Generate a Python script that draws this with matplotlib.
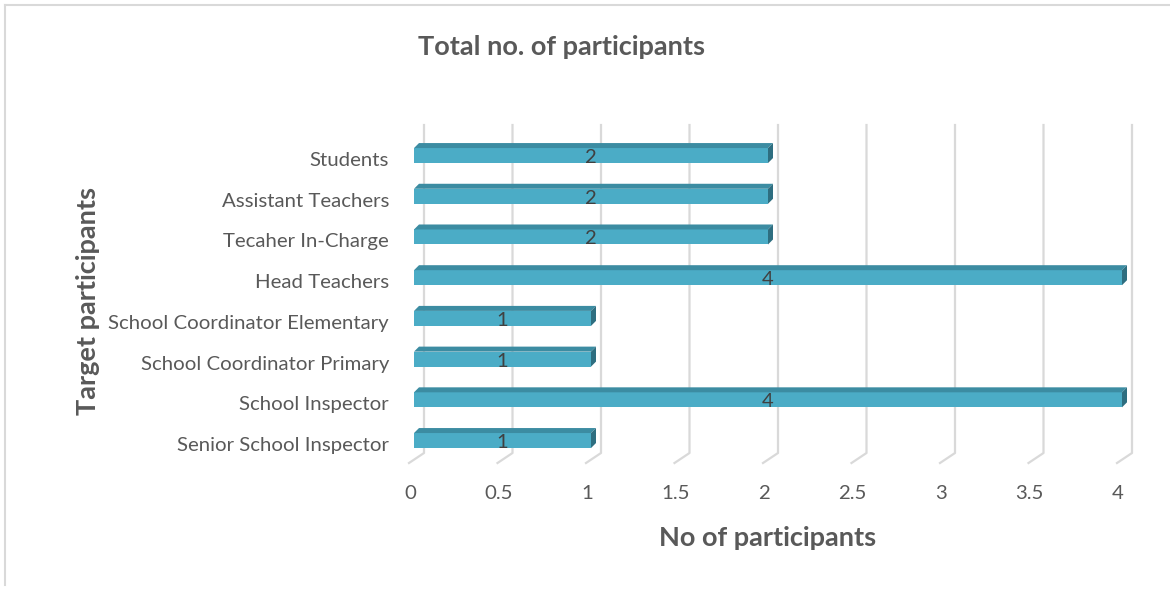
import matplotlib
matplotlib.use("Agg")
import matplotlib.pyplot as plt
from matplotlib.patches import Polygon
from matplotlib.lines import Line2D
from matplotlib.transforms import ScaledTranslation

plt.rcParams['font.family'] = ['Lato', 'DejaVu Sans']

# participants per group, bottom to top
categories = ["Senior School Inspector", "School Inspector", "School Coordinator Primary",
              "School Coordinator Elementary", "Head Teachers", "Tecaher In-Charge",
              "Assistant Teachers", "Students"]
counts = [1, 4, 1, 1, 4, 2, 2, 2]
xticks = [0, 0.5, 1, 1.5, 2, 2.5, 3, 3.5, 4]

front = '#4BACC6'
top_col = '#3C8CA2'
side_col = '#2E6E80'
grid_col = '#D9D9D9'
text_col = '#595959'

fig = plt.figure(figsize=(11.7, 5.89), dpi=100)
W, H = 1170, 589

# axes: x=0 at px 414, x=4 at px 1122; category rows 40.7 px apart
ax = fig.add_axes([414 / W, 1 - 460.9 / H, 708 / W, 325.7 / H])
ax.set_xlim(0, 4)
ax.set_ylim(-0.5, 7.5)
for s in ax.spines.values():
    s.set_visible(False)

ux = 177.0     # px per unit on x
uy = 40.71     # px per category
def dx(p):
    return p / ux
def dy(p):
    return p / uy

# back wall gridlines with a short floor segment
y_floor = -0.306
y_top = 7.75
for v in xticks:
    ax.add_line(Line2D([v + dx(10), v + dx(10), v + dx(-5)],
                       [y_top, y_floor, y_floor - dy(10)],
                       color=grid_col, lw=1.6, clip_on=False, zorder=0))

bh = dy(15)
depth = 5
pos = list(range(len(categories)))
ax.barh(pos, counts, height=bh, color=front, edgecolor='none', zorder=3)
for y, v in zip(pos, counts):
    t = y + bh / 2
    b = y - bh / 2
    ax.add_patch(Polygon([(0, t), (v, t), (v + dx(depth), t + dy(depth)), (dx(depth), t + dy(depth))],
                         closed=True, facecolor=top_col, edgecolor='none', zorder=3, clip_on=False))
    ax.add_patch(Polygon([(v, b), (v, t), (v + dx(depth), t + dy(depth)), (v + dx(depth), b + dy(depth))],
                         closed=True, facecolor=side_col, edgecolor='none', zorder=3, clip_on=False))
    ax.text(v / 2, y - dy(2), str(v), ha='center', va='center', fontsize=14.5,
            color='#404040', zorder=4)

ax.set_yticks(pos)
ax.set_yticklabels(categories, fontsize=14.7, color=text_col)
ax.tick_params(axis='y', length=0, pad=18)
for lbl in ax.get_yticklabels():
    lbl.set_transform(lbl.get_transform() + ScaledTranslation(0, -3.5 / 100, fig.dpi_scale_trans))

ax.set_xticks(xticks)
ax.set_xticklabels([f"{t:g}" for t in xticks], fontsize=14.7, color=text_col)
ax.tick_params(axis='x', length=0, pad=17)
for lbl in ax.get_xticklabels():
    lbl.set_transform(lbl.get_transform() + ScaledTranslation(-4 / 100, 0, fig.dpi_scale_trans))

fig.text(562 / W, 1 - 47 / H, "Total no. of participants", ha='center', va='center',
         fontsize=19.5, fontweight='bold', color=text_col)
fig.text(768 / W, 1 - 538 / H, "No of participants", ha='center', va='center',
         fontsize=19.5, fontweight='bold', color=text_col)
fig.text(88 / W, 1 - 301 / H, "Target participants", ha='center', va='center',
         rotation=90, fontsize=19.5, fontweight='bold', color=text_col)

# chart frame edges
fig.add_artist(Line2D([5 / W, 1], [1 - 5 / H, 1 - 5 / H], color=grid_col, lw=1.5))
fig.add_artist(Line2D([5 / W, 5 / W], [1 - 5 / H, 1 - 585 / H], color=grid_col, lw=1.5))

fig.savefig("out.png", dpi=100)
